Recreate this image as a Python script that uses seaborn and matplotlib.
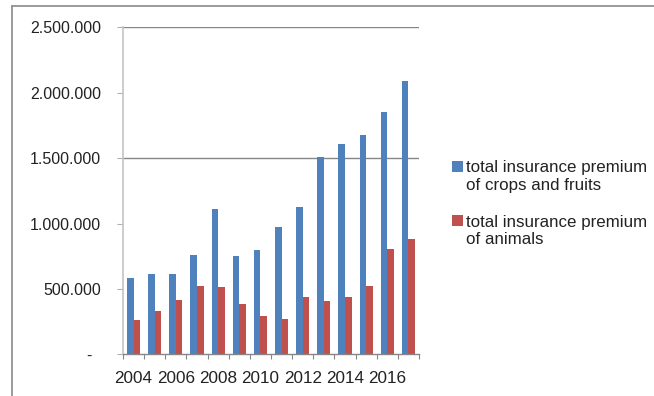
import numpy as np
import pandas as pd
import matplotlib
matplotlib.use("Agg")
import matplotlib.pyplot as plt
from matplotlib.lines import Line2D
from matplotlib.patches import Rectangle
from matplotlib.legend_handler import HandlerPatch
import seaborn as sns

# Annual totals, 2004-2017
years = [2004, 2005, 2006, 2007, 2008, 2009, 2010,
         2011, 2012, 2013, 2014, 2015, 2016, 2017]
crops_fruits = [582_000, 612_000, 612_000, 757_000, 1_108_000, 750_000, 795_000,
                971_000, 1_128_000, 1_510_000, 1_607_000, 1_676_000, 1_851_000, 2_085_000]
animals = [261_000, 330_000, 416_000, 523_000, 515_000, 388_000, 292_000,
           271_000, 437_000, 406_000, 437_000, 523_000, 805_000, 884_000]

series_names = ["total insurance premium\nof crops and fruits",
                "total insurance premium\nof animals"]
series_colors = ["#4F81BD", "#C0504D"]
y_ticks = [0, 500_000, 1_000_000, 1_500_000, 2_000_000, 2_500_000]
gridline_levels = [1_500_000, 2_500_000]

df = pd.DataFrame({
    "year": [str(y) for y in years] * 2,
    "premium": crops_fruits + animals,
    "series": [series_names[0]] * len(years) + [series_names[1]] * len(years),
})

sns.set_theme(style="white")
plt.rcParams["font.family"] = ["Liberation Sans", "DejaVu Sans"]

fig = plt.figure(figsize=(6.54, 3.96), dpi=100)
ax = fig.add_axes([0.1881, 0.1048, 0.6407 - 0.1881, 0.9318 - 0.1048])

sns.barplot(data=df, x="year", y="premium", hue="series",
            palette=series_colors, width=0.625, gap=0, linewidth=0,
            saturation=1, ax=ax, legend=True)

ax.set_xlim(-0.5, len(years) - 0.5)
ax.set_ylim(0, 2_500_000)
ax.set_xlabel("")
ax.set_ylabel("")

# horizontal rules
for lvl in gridline_levels:
    ax.axhline(lvl, color="#868686", lw=1.0, zorder=0.5)

# y axis ticks with dotted thousands separators
def fmt(v):
    if v == 0:
        return "-  "
    return f"{v:,.0f}".replace(",", ".")

ax.set_yticks(y_ticks)
ax.set_yticklabels([fmt(v) for v in y_ticks])
ax.tick_params(axis="y", length=4.3, width=0.8, color="#b0b0b0", pad=11.5,
               labelsize=11.5, labelcolor="#222222", left=True)

# x axis: labels on every other year, tick marks between categories
ax.set_xticks(range(0, len(years), 2))
ax.set_xticklabels([str(y) for y in years[::2]])
ax.set_xticks(np.arange(-0.5, len(years), 1), minor=True)
ax.tick_params(axis="x", which="major", length=0, pad=12, labelsize=12.3,
               labelcolor="#222222")
ax.tick_params(axis="x", which="minor", length=3.8, width=0.8,
               color="#868686", bottom=True)

for side in ["top", "right"]:
    ax.spines[side].set_visible(False)
ax.spines["left"].set_color("#c4c4c4")
ax.spines["left"].set_linewidth(1.2)
ax.spines["bottom"].set_color("#868686")
ax.spines["bottom"].set_linewidth(1.0)


class TopSquare(HandlerPatch):
    """Square legend marker aligned with the first line of a two-line label."""
    def create_artists(self, legend, orig_handle, xdescent, ydescent,
                       width, height, fontsize, trans):
        shift = fontsize * 0.62
        p = Rectangle((-xdescent, -ydescent + shift), width, height,
                      facecolor=orig_handle.get_facecolor(), edgecolor="none",
                      transform=trans)
        return [p]


handles, labels = ax.get_legend_handles_labels()
leg = ax.legend(handles, labels, loc="upper left",
                bbox_to_anchor=(444 / 654, 1 - 152 / 396),
                bbox_transform=fig.transFigure, frameon=False,
                fontsize=12.2, handlelength=0.65, handleheight=0.65,
                handletextpad=0.15, labelspacing=1.3, borderpad=0,
                handler_map={Rectangle: TopSquare()})
for t in leg.get_texts():
    t.set_color("#222222")

# outer frame: top and left edges
fig.add_artist(Line2D([12 / 654, 1.0], [1 - 6 / 396, 1 - 6 / 396],
                      transform=fig.transFigure, color="#8a8a8a", lw=1.2))
fig.add_artist(Line2D([12 / 654, 12 / 654], [0, 1 - 6 / 396],
                      transform=fig.transFigure, color="#8a8a8a", lw=1.2))

fig.savefig("out.png", dpi=100, facecolor="white")
